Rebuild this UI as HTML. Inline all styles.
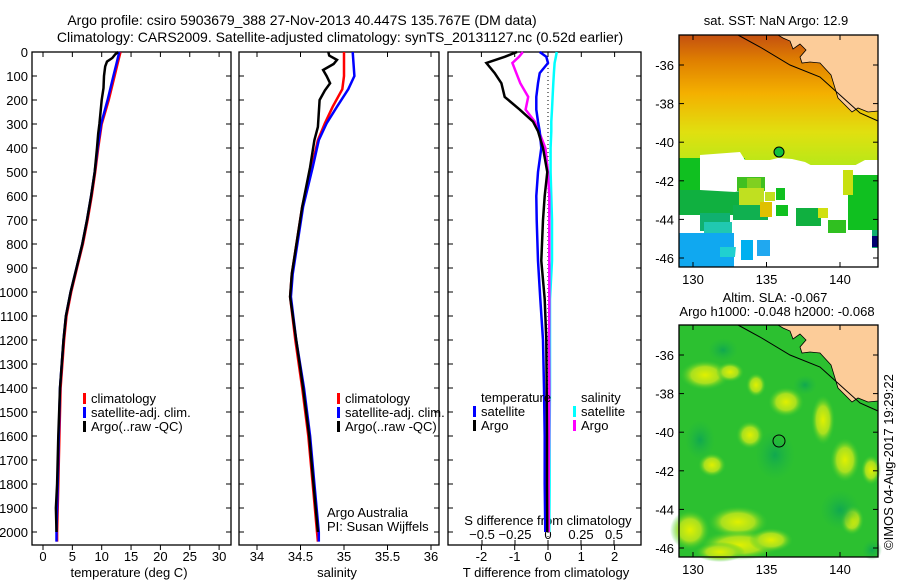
<!DOCTYPE html>
<html><head><meta charset="utf-8"><style>
body{margin:0;background:#fff}
svg{display:block;font-family:"Liberation Sans",sans-serif}
text{font-size:13px;fill:#000}
.tt{font-size:14px}
</style></head><body>
<svg id="fig" width="900" height="580" viewBox="0 0 900 580">
<text class="tt" x="302" y="25" text-anchor="middle">Argo profile: csiro 5903679_388 27-Nov-2013 40.447S 135.767E (DM data)</text>
<text class="tt" x="340" y="42" text-anchor="middle">Climatology: CARS2009. Satellite-adjusted climatology: synTS_20131127.nc (0.52d earlier)</text>
<g id="p1"></g>
<g id="p2"></g>
<g id="p3"></g>
<g id="m1"></g>
<g id="m2"></g>
<text transform="translate(893,550) rotate(-90)">©IMOS 04-Aug-2017 19:29:22</text>
</svg>
<script>
// ---- data ----
const depthTicks=[0,100,200,300,400,500,600,700,800,900,1000,1100,1200,1300,1400,1500,1600,1700,1800,1900,2000];
const tClimD=[0,50,100,200,300,400,500,600,700,800,900,1000,1100,1200,1400,1600,1800,2000,2040];
const tClim=[13.2,12.7,12.2,11.2,10.0,9.4,8.9,8.3,7.6,6.8,5.8,4.8,4.0,3.6,3.0,2.8,2.6,2.4,2.4];
const tSat=[13.0,12.5,12.0,11.0,9.9,9.3,8.8,8.2,7.5,6.7,5.7,4.7,3.9,3.5,2.9,2.7,2.5,2.3,2.3];
const tArgoD=[0,10,25,40,60,100,150,200,300,340,400,500,600,700,800,900,1000,1100,1200,1400,1600,1800,1900,2000];
const tArgo=[12.8,12.3,11.8,10.9,10.6,10.4,10.3,10.0,9.6,9.4,9.2,8.8,8.2,7.5,6.7,5.7,4.7,3.9,3.5,2.9,2.6,2.4,2.2,2.3];
const sClimD=[0,100,155,228,297,367,480,645,785,925,1020,1200,1400,1600,1800,2000,2040];
const sClim=[35.0,35.0,34.98,34.87,34.78,34.70,34.63,34.52,34.46,34.40,34.38,34.44,34.52,34.59,34.64,34.69,34.70];
const sSat=[35.1,35.12,35.05,34.92,34.80,34.71,34.64,34.53,34.47,34.41,34.39,34.45,34.54,34.61,34.66,34.71,34.71];
const sArgoD=[0,15,33,50,75,100,130,160,200,312,367,480,645,785,925,1020,1200,1400,1600,1800,2000];
const sArgo=[34.82,34.83,34.92,34.88,34.76,34.8,34.84,34.78,34.72,34.70,34.66,34.61,34.52,34.46,34.40,34.38,34.45,34.53,34.60,34.65,34.70];
const dD=[0,20,46,88,130,187,240,290,330,400,500,600,700,870,1030,1200,1400,1600,1800,2000];
const dTArgo=[-0.93,-1.3,-1.85,-1.6,-1.4,-1.3,-0.85,-0.45,-0.3,-0.15,-0.02,-0.1,-0.15,-0.2,-0.1,-0.05,-0.04,-0.03,-0.03,-0.02];
const dTSat=[-0.25,-0.05,0,-0.25,-0.3,-0.35,-0.35,-0.3,-0.25,-0.2,-0.3,-0.35,-0.34,-0.3,-0.23,-0.15,-0.12,-0.1,-0.1,-0.08];
const dSArgo=[-0.19,-0.22,-0.27,-0.24,-0.21,-0.15,-0.17,-0.1,-0.07,-0.02,0.0,0.01,0.01,0.01,0.01,0.008,0.01,0.008,0.005,0.005];
const dSSat=[0.066,0.06,0.05,0.045,0.04,0.035,0.03,0.025,0.025,0.02,0.02,0.025,0.03,0.03,0.015,0.015,0.015,0.012,0.012,0.01];
const tTicks=[0,5,10,15,20,25,30];
const sTicks=[34,34.5,35,35.5,36];
const dTTicks=[-2,-1,0,1,2];
const dSTicks=[-0.5,-0.25,0,0.25,0.5];
const lonTicks=[130,135,140];
const latTicks=[-36,-38,-40,-42,-44,-46];

const NS='http://www.w3.org/2000/svg';
function mk(p,tag,a,txt){const e=document.createElementNS(NS,tag);for(const k in a)e.setAttribute(k,a[k]);if(txt!==undefined)e.textContent=txt;p.appendChild(e);return e;}
const yD=d=>52+d*0.24;
const TOP=52,BOT=545;
function frame(g,x0,x1,name){
  const r=mk(g,'rect',{x:x0,y:TOP,width:x1-x0,height:BOT-TOP,fill:'none',stroke:'#000','stroke-width':1.3});
  
  
}
function line(g,xs,ds,sx,color,name,w){
  const pts=xs.map((v,i)=>sx(v).toFixed(1)+','+yD(ds[i]).toFixed(1)).join(' ');
  const e=mk(g,'polyline',{points:pts,fill:'none',stroke:color,'stroke-width':w||2.5,'stroke-linejoin':'miter'});
  
  
}
function xticks(g,ticks,sx,y,dir,labY,fmt){
  ticks.forEach(t=>{const x=sx(t);
    mk(g,'line',{x1:x,x2:x,y1:y,y2:y+dir*5,stroke:'#000'});
    const tl=mk(g,'text',{x:x,y:labY,'text-anchor':'middle'},fmt?fmt(t):String(t));
    
    
  });
}
function legendT(g,x,y,items){
  items.forEach((it,i)=>{
    mk(g,'rect',{x:x,y:y+i*14-10,width:3,height:11,fill:it[1]});
    const t=mk(g,'text',{x:x+8,y:y+i*14},it[0]);
    
    
  });
}
// panel 1 temperature
{const g=document.getElementById('p1');const sx=v=>43+v*5.87;
 frame(g,32,231,'temperature');
 depthTicks.forEach(d=>{const y=yD(d);mk(g,'line',{x1:32,x2:37,y1:y,y2:y,stroke:'#000'});mk(g,'line',{x1:231,x2:226,y1:y,y2:y,stroke:'#000'});
  const t=mk(g,'text',{x:28,y:y+5,'text-anchor':'end'},String(d));
  
  });
 tTicks.forEach(t=>{const x=sx(t);mk(g,'line',{x1:x,x2:x,y1:TOP,y2:TOP+5,stroke:'#000'});});
 xticks(g,tTicks,sx,BOT,1,561);
 const xl=mk(g,'text',{x:129,y:577,'text-anchor':'middle'},'temperature (deg C)');
 
 
 line(g,tClim,tClimD,sx,'#f00','temp-climatology-line');
 line(g,tSat,tClimD,sx,'#00f','temp-satellite-line');
 line(g,tArgo,tArgoD,sx,'#000','temp-argo-line');
 legendT(g,83,403,[['climatology','#f00'],['satellite-adj. clim.','#00f'],['Argo(..raw -QC)','#000']]);
}
// panel 2 salinity
{const g=document.getElementById('p2');const sx=v=>257+(v-34)*87;
 frame(g,239,439,'salinity');
 depthTicks.forEach(d=>{const y=yD(d);mk(g,'line',{x1:239,x2:244,y1:y,y2:y,stroke:'#000'});mk(g,'line',{x1:439,x2:434,y1:y,y2:y,stroke:'#000'});});
 sTicks.forEach(t=>{const x=sx(t);mk(g,'line',{x1:x,x2:x,y1:TOP,y2:TOP+5,stroke:'#000'});});
 xticks(g,sTicks,sx,BOT,1,561);
 const xl=mk(g,'text',{x:337,y:577,'text-anchor':'middle'},'salinity');
 
 
 line(g,sClim,sClimD,sx,'#f00','sal-climatology-line');
 line(g,sSat,sClimD,sx,'#00f','sal-satellite-line');
 line(g,sArgo,sArgoD,sx,'#000','sal-argo-line');
 legendT(g,337,403,[['climatology','#f00'],['satellite-adj. clim.','#00f'],['Argo(..raw -QC)','#000']]);
 const a=mk(g,'text',{x:327,y:517},'Argo Australia');
 const b=mk(g,'text',{x:327,y:531},'PI: Susan Wijffels');
}
// panel 3 differences
{const g=document.getElementById('p3');const sxT=v=>548+v*33.3;const sxS=v=>548+v*132;
 frame(g,448,641,'difference');
 depthTicks.forEach(d=>{const y=yD(d);mk(g,'line',{x1:448,x2:453,y1:y,y2:y,stroke:'#000'});mk(g,'line',{x1:641,x2:636,y1:y,y2:y,stroke:'#000'});});
 dTTicks.forEach(t=>{const x=sxT(t);mk(g,'line',{x1:x,x2:x,y1:TOP,y2:TOP+5,stroke:'#000'});});
 mk(g,'line',{x1:548,x2:548,y1:TOP,y2:BOT,stroke:'#000','stroke-dasharray':'1,3'});
 xticks(g,dTTicks,sxT,BOT,1,561);
 xticks(g,dSTicks,sxS,BOT,-1,539,t=>t===0?'0':String(t).replace('-','\u2212'));
 const st=mk(g,'text',{x:548,y:525,'text-anchor':'middle'},'S difference from climatology');
 const xl=mk(g,'text',{x:546,y:577,'text-anchor':'middle'},'T difference from climatology');
 line(g,dSSat,dD,sxS,'#0ff','s-satellite-diff-line');
 line(g,dSArgo,dD,sxS,'#f0f','s-argo-diff-line');
 line(g,dTSat,dD,sxT,'#00f','t-satellite-diff-line');
 line(g,dTArgo,dD,sxT,'#000','t-argo-diff-line');
 const h1=mk(g,'text',{x:481,y:402},'temperature');
 const h2=mk(g,'text',{x:581,y:402},'salinity');
 legendT(g,473,416,[['satellite','#00f'],['Argo','#000']]);
 legendT(g,573,416,[['satellite','#0ff'],['Argo','#f0f']]);
}
// maps
function mapAxes(g,y0,y1,latY,name){
 const x0=679,x1=878;
 mk(g,'rect',{x:x0,y:y0,width:x1-x0,height:y1-y0,fill:'none',stroke:'#000','stroke-width':1.3});
 const lx=v=>693+(v-130)*14.7;
 lonTicks.forEach(v=>{const x=lx(v);mk(g,'line',{x1:x,x2:x,y1:y0,y2:y0+5,stroke:'#000'});mk(g,'line',{x1:x,x2:x,y1:y1,y2:y1-5,stroke:'#000'});
  const t=mk(g,'text',{x:x,y:y1+17,'text-anchor':'middle'},String(v));});
 latTicks.forEach(v=>{const y=latY(v);mk(g,'line',{x1:x0,x2:x0+5,y1:y,y2:y,stroke:'#000'});mk(g,'line',{x1:x1,x2:x1-5,y1:y,y2:y,stroke:'#000'});
  const t=mk(g,'text',{x:x0-5,y:y+5,'text-anchor':'end'},String(v));});
}
function land(g,oy){
 const pts=[[768,0],[878,0],[878,76],[868,77],[858,73],[852,77],[838,63],[831,40],[820,28],[810,27],[802,28],[800,22],[806,15],[800,9],[793,14],[790,6],[783,3],[778,0]];
 mk(g,'polygon',{points:pts.map(p=>p[0]+','+(p[1]+oy)).join(' '),fill:'#fccc99',stroke:'#000','stroke-width':0.8});
 mk(g,'polyline',{points:[[738,0],[760,12],[790,30],[820,42],[840,60],[860,78],[878,86]].map(p=>p[0]+','+(p[1]+oy)).join(' '),fill:'none',stroke:'#000','stroke-width':1});
}
{const g=document.getElementById('m1');const y0=35,y1=267;
 const latY=v=>65+(-36-v)*19.3;
 const t=mk(g,'text',{x:776,y:25,'text-anchor':'middle'},'sat. SST: NaN Argo: 12.9');
 const defs=mk(g,'defs',{});const lg=mk(defs,'linearGradient',{id:'sstg',x1:0,y1:0,x2:0,y2:1});
 [[0,'#c45010'],[0.2,'#e08000'],[0.45,'#f4b000'],[0.75,'#e0e010'],[1,'#b8e818']].forEach(s=>mk(lg,'stop',{offset:s[0],'stop-color':s[1]}));
 mk(g,'rect',{x:679,y:35,width:199,height:130,fill:'url(#sstg)'});
 mk(g,'rect',{x:679,y:158,width:66,height:32,fill:'#10c020'});
 mk(g,'rect',{x:679,y:190,width:60,height:25,fill:'#10b040'});
 mk(g,'rect',{x:700,y:213,width:30,height:18,fill:'#10b070'});
 mk(g,'rect',{x:704,y:222,width:28,height:16,fill:'#20c8b0'});
 mk(g,'rect',{x:679,y:233,width:55,height:34,fill:'#10a8f0'});
 mk(g,'rect',{x:720,y:247,width:18,height:10,fill:'#20d0d0'});
 mk(g,'polygon',{points:'700,155 740,152 745,160 770,160 778,158 792,159 805,162 820,170 850,168 865,160 878,160 878,267 734,267 739,215 750,205 744,190 735,192 700,190',fill:'#fff'});
 mk(g,'rect',{x:848,y:175,width:30,height:55,fill:'#10c020'});
 mk(g,'rect',{x:843,y:170,width:10,height:25,fill:'#c8e010'});
 mk(g,'rect',{x:872,y:230,width:6,height:18,fill:'#10b070'});
 mk(g,'rect',{x:872,y:236,width:6,height:11,fill:'#000070'});
 [[737,177,28,14,'#40c020'],[739,188,25,20,'#c0e020'],[747,178,14,10,'#80d020'],[733,205,35,15,'#10b050'],[760,202,12,15,'#e0c000'],[776,188,9,12,'#10c020'],[776,205,12,11,'#10c020'],[796,208,25,18,'#10b040'],[818,208,10,10,'#d0e010'],[828,220,18,13,'#30c020'],[741,240,12,20,'#00b0f0'],[757,240,13,16,'#20a8f0'],[765,192,10,9,'#c0e020']].forEach(r=>mk(g,'rect',{x:r[0],y:r[1],width:r[2],height:r[3],fill:r[4]}));
 land(g,35);
 const c=mk(g,'circle',{cx:779,cy:152,r:5,fill:'#10c040',stroke:'#000','stroke-width':1});
 mapAxes(g,y0,y1,latY,'sst');
}
{const g=document.getElementById('m2');const y0=325,y1=557;const latY=v=>355+(-36-v)*19.3;
 const t1=mk(g,'text',{x:775,y:302,'text-anchor':'middle'},'Altim. SLA: -0.067');
 const t2=mk(g,'text',{x:777,y:316,'text-anchor':'middle'},'Argo h1000: -0.048 h2000: -0.068');
 const defs=mk(g,'defs',{});const rg=mk(defs,'radialGradient',{id:'yb'});
 mk(rg,'stop',{offset:0,'stop-color':'#e0f000'});mk(rg,'stop',{offset:0.55,'stop-color':'#a8e020'});mk(rg,'stop',{offset:1,'stop-color':'#30c830','stop-opacity':0});
 const rg2=mk(defs,'radialGradient',{id:'db'});
 mk(rg2,'stop',{offset:0,'stop-color':'#10a850'});mk(rg2,'stop',{offset:1,'stop-color':'#20b840','stop-opacity':0});
 mk(g,'rect',{x:679,y:325,width:199,height:232,fill:'#2cc030'});
 [[705,375,25,15],[730,372,14,10],[756,385,10,12],[786,402,18,15],[823,420,12,25],[750,435,14,14],[712,465,14,12],[845,460,15,22],[871,470,10,15],[852,520,12,15],[738,522,30,16],[740,545,40,15],[690,530,20,20],[720,552,25,10],[771,540,22,12]].forEach(b=>mk(g,'ellipse',{cx:b[0],cy:b[1],rx:b[2],ry:b[3],fill:'url(#yb)'}));
 [[723,350,15,12],[805,385,12,10],[775,455,20,25],[840,510,20,20],[872,550,10,10],[700,440,15,20]].forEach(b=>mk(g,'ellipse',{cx:b[0],cy:b[1],rx:b[2],ry:b[3],fill:'url(#db)'}));
 land(g,325);
 const c=mk(g,'circle',{cx:779,cy:441,r:6,fill:'none',stroke:'#000','stroke-width':1});
 mapAxes(g,y0,y1,latY,'sla');
}
</script>
</body></html>
